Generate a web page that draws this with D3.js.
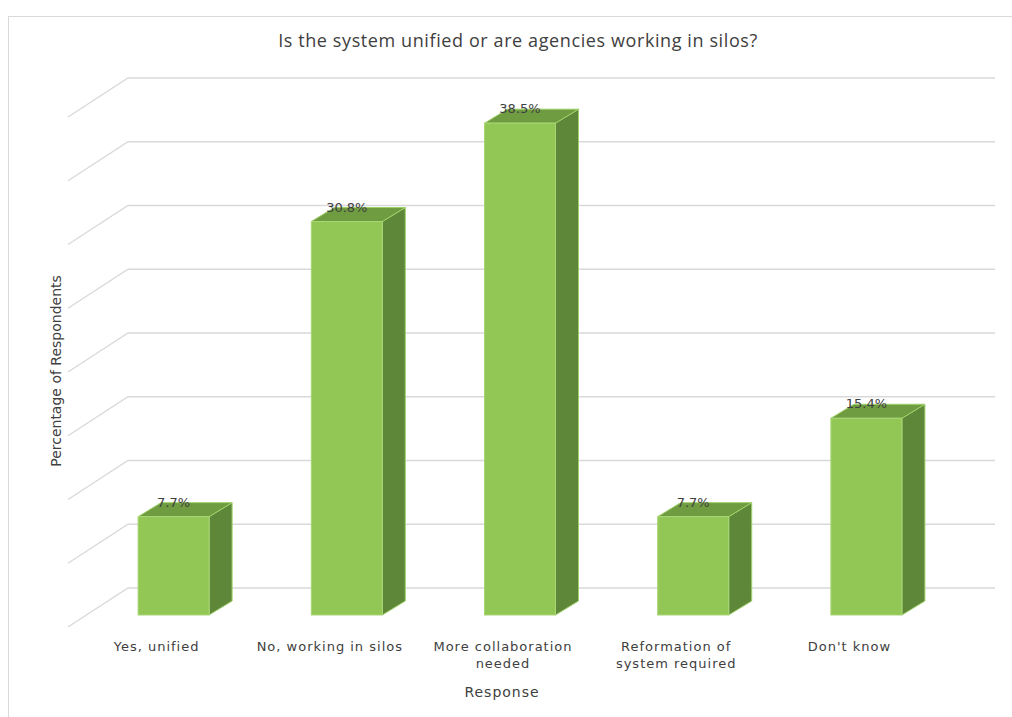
<!DOCTYPE html>
<html>
<head>
<meta charset="utf-8">
<script src="https://cdn.jsdelivr.net/npm/d3@7"></script>
<style>
  html, body { margin: 0; padding: 0; background: #ffffff; }
  svg { display: block; }
  text { font-family: "DejaVu Sans", Verdana, sans-serif; fill: #404040; }
  .title { font-family: "Open Sans", Lato, sans-serif; letter-spacing: 0.6px; }
  .cat { letter-spacing: 1px; }
  .xtitle { letter-spacing: 1px; }
</style>
</head>
<body>
<svg id="chart" width="1012" height="717"></svg>
<script>
// Survey responses
const categories = [
  ["Yes, unified"],
  ["No, working in silos"],
  ["More collaboration", "needed"],
  ["Reformation of", "system required"],
  ["Don't know"]
];
const values = [7.7, 30.8, 38.5, 7.7, 15.4];
const valueLabels = ["7.7%", "30.8%", "38.5%", "7.7%", "15.4%"];
const gridTicks = [0, 5, 10, 15, 20, 25, 30, 35, 40];

const title = "Is the system unified or are agencies working in silos?";
const yTitle = "Percentage of Respondents";
const xTitle = "Response";

const svg = d3.select("#chart");

// Chart area frame
svg.append("rect")
  .attr("x", 8.5).attr("y", 16.5)
  .attr("width", 1012).attr("height", 720)
  .attr("fill", "#ffffff").attr("stroke", "#d9d9d9");

// Back-wall and front-plane vertical scales
const yWall = d3.scaleLinear().domain([0, 40]).range([588, 78]);
const yFront = d3.scaleLinear().domain([0, 40]).range([615, 104]);

// Category placement on the front plane
const x = d3.scaleBand()
  .domain(d3.range(values.length))
  .range([87, 953])
  .paddingInner(0.59)
  .paddingOuter(0.295);

// 3D offsets
const depth = { dx: 23, dy: -14 };
const wall = { x0: 128, x1: 995, dx: -60, dy: 39 };

// Gridlines: back wall + side wall diagonals
const grid = svg.append("g").attr("stroke", "#d9d9d9").attr("stroke-width", 1.3).attr("fill", "none");
grid.selectAll("path")
  .data(gridTicks)
  .join("path")
  .attr("d", t => {
    const y = yWall(t);
    return `M${wall.x0 + wall.dx},${y + wall.dy}L${wall.x0},${y}L${wall.x1},${y}`;
  });

// Bars
const bars = svg.append("g");
const bar = bars.selectAll("g").data(values).join("g");

bar.append("path") // side face
  .attr("d", (d, i) => {
    const x1 = x(i) + x.bandwidth(), top = yFront(d), base = yFront(0);
    return `M${x1},${top}L${x1 + depth.dx},${top + depth.dy}L${x1 + depth.dx},${base + depth.dy}L${x1},${base}Z`;
  })
  .attr("fill", "#5e873a").attr("stroke", "#9fd16a").attr("stroke-width", 1);

bar.append("path") // top face
  .attr("d", (d, i) => {
    const x0 = x(i), x1 = x0 + x.bandwidth(), top = yFront(d);
    return `M${x0},${top}L${x0 + depth.dx},${top + depth.dy}L${x1 + depth.dx},${top + depth.dy}L${x1},${top}Z`;
  })
  .attr("fill", "#6f9c40").attr("stroke", "#9fd16a").attr("stroke-width", 1);

bar.append("rect") // front face
  .attr("x", (d, i) => x(i))
  .attr("y", d => yFront(d))
  .attr("width", x.bandwidth())
  .attr("height", d => yFront(0) - yFront(d))
  .attr("fill", "#92c655").attr("stroke", "#a8d676").attr("stroke-width", 1);

// Value labels
svg.append("g").selectAll("text")
  .data(values)
  .join("text")
  .attr("x", (d, i) => x(i) + x.bandwidth() / 2)
  .attr("y", d => yFront(d) - 10)
  .attr("text-anchor", "middle")
  .attr("font-size", 13)
  .text((d, i) => valueLabels[i]);

// Category labels
const catG = svg.append("g").selectAll("text")
  .data(categories)
  .join("text")
  .attr("class", "cat")
  .attr("x", (d, i) => x(i) + x.bandwidth() / 2 - 17)
  .attr("y", 651)
  .attr("text-anchor", "middle")
  .attr("font-size", 13);
catG.selectAll("tspan")
  .data(d => d)
  .join("tspan")
  .attr("x", function () { return d3.select(this.parentNode).attr("x"); })
  .attr("dy", (d, j) => j === 0 ? 0 : 17)
  .text(d => d);

// Titles
svg.append("text")
  .attr("class", "title")
  .attr("x", 518).attr("y", 47)
  .attr("text-anchor", "middle")
  .attr("font-size", 18)
  .text(title);

svg.append("text")
  .attr("class", "xtitle")
  .attr("x", 502).attr("y", 697)
  .attr("text-anchor", "middle")
  .attr("font-size", 14)
  .text(xTitle);

svg.append("text")
  .attr("transform", "translate(61,371) rotate(-90)")
  .attr("text-anchor", "middle")
  .attr("font-size", 14)
  .text(yTitle);
</script>
</body>
</html>
